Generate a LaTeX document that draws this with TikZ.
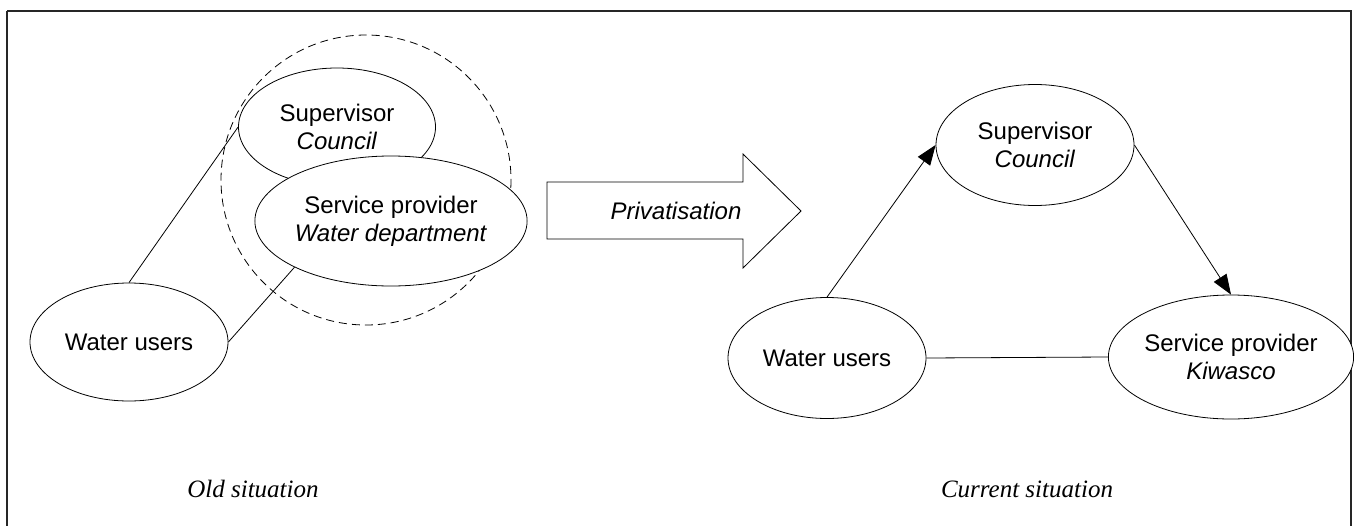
\documentclass[tikz,border=0pt]{standalone}
\usepackage{fontspec}
\setmainfont{Liberation Serif}
\setsansfont{Liberation Sans}
\usetikzlibrary{shapes.geometric,arrows.meta}
\begin{document}
\begin{tikzpicture}[x=1pt,y=-1pt,
  actor/.style={ellipse,draw,fill=white,line width=0.8pt,inner sep=0pt,
    align=center,font=\sffamily\fontsize{24}{28}\selectfont},
  link/.style={line width=0.8pt},
  flow/.style={line width=0.8pt,-{Triangle[length=20pt,width=15pt]}},
  caption/.style={font=\itshape\fontsize{25}{28}\selectfont,anchor=base}]
\useasboundingbox (0,0) rectangle (1354,525);
% outer frame
\draw[line width=2pt,draw=black!85] (7,11) -- (1351,11) -- (1351,540) (7,11) -- (7,540);

% ---- old situation ----
\draw[line width=0.8pt,dash pattern=on 8pt off 5pt] (366,180) circle (145);
\node[actor,minimum width=198pt,minimum height=118pt] (wuA) at (129,342) {Water users};
\node[actor,minimum width=197pt,minimum height=118pt] (supA) at (337,127) {Supervisor\\\textit{Council}};
\node[actor,minimum width=216pt,minimum height=130pt] (spA) at (391,221) {Service provider\\\textit{Water department}};
\draw[link] (wuA.north) -- (supA.west);
\draw[link] (wuA.east) -- (spA.south west);
\node[caption] (oldlbl) at (253,497) {Old situation};

% ---- privatisation arrow ----
\draw[line width=0.8pt,fill=white] (547,182) -- (743,182) -- (743,154) -- (801,211)
  -- (743,268) -- (743,239) -- (547,239) -- cycle;
\node[font=\sffamily\itshape\fontsize{24}{28}\selectfont] (priv) at (676,211) {Privatisation};

% ---- current situation ----
\node[actor,minimum width=198pt,minimum height=121pt] (supB) at (1035,145) {Supervisor\\\textit{Council}};
\node[actor,minimum width=198pt,minimum height=121pt] (wuB) at (827,358) {Water users};
\node[actor,minimum width=202pt,minimum height=124pt] (spB) at (1231,357) {Service provider\\\textit{Kiwasco}};
\draw[flow] (wuB.north) -- (supB.west);
\draw[flow] (supB.east) -- (spB.north);
\draw[link] (wuB.east) -- (spB.west);
\node[caption] (curlbl) at (1027,497) {Current situation};
\end{tikzpicture}
\end{document}
